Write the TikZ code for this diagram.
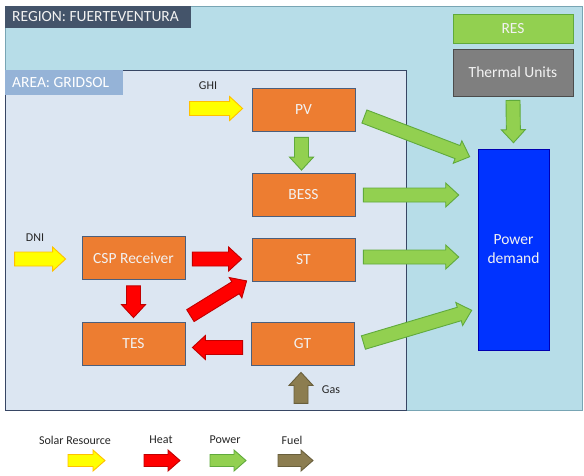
\documentclass[tikz,border=0pt]{standalone}
\usepackage{fontspec}
\setmainfont{Carlito}
\usetikzlibrary{calc}
\definecolor{regfill}{RGB}{183,221,232}
\definecolor{regdraw}{RGB}{120,165,180}
\definecolor{reglab}{RGB}{68,84,106}
\definecolor{areafill}{RGB}{220,230,242}
\definecolor{areadraw}{RGB}{55,70,100}
\definecolor{arealab}{RGB}{149,179,215}
\definecolor{boxorange}{RGB}{237,125,49}
\definecolor{boxdraw}{RGB}{75,95,125}
\definecolor{resgreen}{RGB}{146,208,80}
\definecolor{thgray}{RGB}{127,127,127}
\definecolor{pdblue}{RGB}{0,51,255}
\definecolor{yelfill}{RGB}{255,255,0}
\definecolor{yeldraw}{RGB}{255,192,0}
\definecolor{redfill}{RGB}{255,0,0}
\definecolor{reddraw}{RGB}{192,0,0}
\definecolor{grnfill}{RGB}{146,208,80}
\definecolor{grndraw}{RGB}{96,170,60}
\definecolor{brnfill}{RGB}{140,125,80}
\definecolor{brndraw}{RGB}{105,95,60}
\definecolor{lighttext}{RGB}{242,242,242}
\def\basw{7pt}
\def\bahw{12pt}
\def\bahl{13pt}
\newcommand{\blockarr}[3]{%
  \coordinate (ba-a) at #2;
  \coordinate (ba-b) at #3;
  \coordinate (ba-c) at ($(ba-b)!\bahl!(ba-a)$);
  \filldraw[#1] ($(ba-a)!\basw!90:(ba-b)$) -- ($(ba-c)!\basw!90:(ba-b)$) --
    ($(ba-c)!\bahw!90:(ba-b)$) -- (ba-b) -- ($(ba-c)!\bahw!-90:(ba-b)$) --
    ($(ba-c)!\basw!-90:(ba-b)$) -- ($(ba-a)!\basw!-90:(ba-b)$) -- cycle;
}
\tikzset{
  bigfont/.style={font=\fontsize{15.5}{19}\selectfont},
  unitbox/.style={draw=boxdraw, line width=0.8pt, fill=boxorange, text=lighttext,
    minimum width=103pt, minimum height=43pt, inner sep=0pt, bigfont},
  solar/.style={fill=yelfill, draw=yeldraw, line width=0.9pt, line join=miter},
  heat/.style={fill=redfill, draw=reddraw, line width=0.9pt},
  power/.style={fill=grnfill, draw=grndraw, line width=0.9pt},
  fuel/.style={fill=brnfill, draw=brndraw, line width=0.9pt},
  smalltxt/.style={font=\fontsize{12}{14}\selectfont, text=black!85, inner sep=0pt},
}
\begin{document}
\begin{tikzpicture}[x=1pt,y=-1pt]
\useasboundingbox (0,0) rectangle (584,475);
\fill[white] (0,0) rectangle (584,475);
% region
\draw[regdraw, fill=regfill, line width=0.9pt] (5,6) rectangle (582,410);
\node[fill=reglab, minimum width=186pt, minimum height=22pt, inner sep=0pt] (reglabel) at (98,17) {};
\node[anchor=west, text=lighttext, bigfont, inner sep=0pt] (regtext) at (12,17) {REGION: FUERTEVENTURA};
% area
\draw[areadraw, fill=areafill, line width=0.9pt] (5,70) rectangle (406,410);
\node[fill=arealab, minimum width=118pt, minimum height=25pt, inner sep=0pt] (arealabel) at (64,82.5) {};
\node[anchor=west, text=white, bigfont, inner sep=0pt] (areatext) at (12,82.5) {AREA: GRIDSOL};
% boxes
\node[unitbox] (pv) at (303.5,109.5) {PV};
\node[unitbox] (bess) at (303.5,195) {BESS};
\node[unitbox] (st) at (303.5,260) {ST};
\node[unitbox] (gt) at (302.5,343.5) {GT};
\node[unitbox] (csp) at (133.5,258) {CSP Receiver};
\node[unitbox] (tes) at (133.5,343.5) {TES};
\node[draw=grndraw, line width=0.8pt, fill=resgreen, text=lighttext, minimum width=120pt, minimum height=29pt,
  inner sep=0pt, bigfont] (res) at (513,28.5) {RES};
\node[draw=black!70, line width=0.8pt, fill=thgray, text=lighttext, minimum width=120pt, minimum height=47pt,
  inner sep=0pt, bigfont] (thermal) at (513,72.5) {Thermal Units};
\node[draw=blue!70!black, line width=0.6pt, fill=pdblue, text=lighttext, minimum width=71pt, minimum height=201pt,
  inner sep=0pt, align=center, bigfont] (pd) at (513.5,249.5) {Power\\demand};
% labels
\node[smalltxt] (ghi) at (208,85.5) {GHI};
\node[smalltxt] (dni) at (35,237.5) {DNI};
\node[smalltxt] (gas) at (331,390) {Gas};
% arrows
\blockarr{solar}{($(pv.west)+(-62,-1)$)}{($(pv.west)+(-9,-1)$)}
\blockarr{power}{($(pv.south)+(-2,6)$)}{($(bess.north)+(-2,-3)$)}
\blockarr{power}{($(bess.east)+(8,0)$)}{($(pd.west |- bess.east)+(-19,0)$)}
\blockarr{power}{($(st.east)+(8,-3)$)}{($(pd.west |- st.east)+(-19,-3)$)}
\blockarr{power}{($(pv.east)+(9,7)$)}{($(pd.north west)+(-8,8)$)}
\blockarr{power}{($(gt.east)+(9,-1)$)}{($(pd.south west)+(-6,-40)$)}
\blockarr{power}{($(thermal.south)+(0,4)$)}{($(pd.north)+(0,-6)$)}
\blockarr{solar}{($(csp.west)+(-67,1)$)}{($(csp.west)+(-16,1)$)}
\blockarr{heat}{($(csp.east)+(7,1)$)}{($(st.west)+(-10,-1)$)}
\blockarr{heat}{($(csp.south)+(0,6)$)}{($(tes.north)+(0,-4)$)}
\blockarr{heat}{($(tes.north east)+(5,-6)$)}{($(st.south west)+(-5,-1)$)}
\blockarr{heat}{($(gt.west)+(-8,4)$)}{($(tes.east)+(7,4)$)}
\blockarr{fuel}{($(gt.south)+(-1.5,38)$)}{($(gt.south)+(-1.5,7)$)}
% legend
\node[smalltxt] (lsolar) at (75,440) {Solar Resource};
\node[smalltxt] (lheat) at (161,440) {Heat};
\node[smalltxt] (lpower) at (225,440) {Power};
\node[smalltxt] (lfuel) at (292,440) {Fuel};
\def\basw{6pt}\def\bahw{10.5pt}\def\bahl{12pt}
\coordinate (lsa) at (68,460.5); \coordinate (lsb) at (105,460.5);
\coordinate (lha) at (144,460.5); \coordinate (lhb) at (180,460.5);
\coordinate (lpa) at (210,460.5); \coordinate (lpb) at (246,460.5);
\coordinate (lfa) at (278,460.5); \coordinate (lfb) at (313,460.5);
\blockarr{solar}{(lsa)}{(lsb)}
\blockarr{heat}{(lha)}{(lhb)}
\blockarr{power}{(lpa)}{(lpb)}
\blockarr{fuel}{(lfa)}{(lfb)}
\end{tikzpicture}
\end{document}
